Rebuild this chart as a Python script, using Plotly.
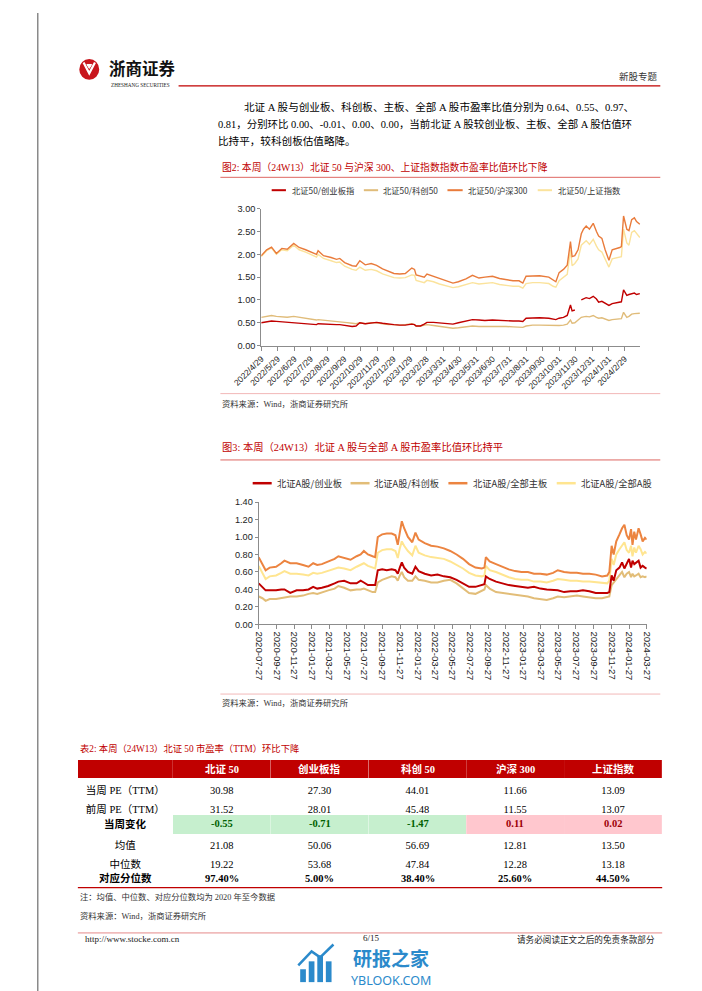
import plotly.graph_objects as go

W, H = 702, 991
def px(x): return x / W
def py(y): return 1 - y / H

SERIF = "Liberation Serif, Noto Sans CJK SC, serif"
SANS = "Arial, Liberation Sans, Noto Sans CJK SC, sans-serif"
CJK = "Noto Sans CJK SC, sans-serif"
RED = "#C00000"
NB = "\u00a0"

# ---------------- Chart 1 data (北证50 / 各指数 市盈率比值) ----------------
c1_dates = [
    "2022-04-29","2022-05-09","2022-05-18","2022-05-27","2022-06-06","2022-06-16","2022-06-28","2022-07-08","2022-07-20","2022-08-01",
    "2022-08-09","2022-08-12","2022-08-22","2022-09-05","2022-09-15","2022-09-21","2022-09-30","2022-10-14","2022-10-21","2022-10-28",
    "2022-11-07","2022-11-18","2022-11-28","2022-12-09","2022-12-20","2022-12-30","2023-01-10","2023-01-20","2023-02-01","2023-02-06",
    "2023-02-09","2023-02-17","2023-02-24","2023-03-01","2023-03-13","2023-03-24","2023-04-06","2023-04-18","2023-04-28","2023-05-12",
    "2023-05-24","2023-06-05","2023-06-16","2023-06-30","2023-07-13","2023-07-25","2023-08-07","2023-08-18","2023-08-25","2023-08-31",
    "2023-09-12","2023-09-25","2023-10-12","2023-10-20","2023-10-25","2023-10-31","2023-11-08","2023-11-15","2023-11-21","2023-11-24",
    "2023-11-29","2023-12-05","2023-12-11","2023-12-15","2023-12-20","2023-12-26","2024-01-02","2024-01-08","2024-01-12","2024-01-18",
    "2024-01-24","2024-01-31","2024-02-06","2024-02-20","2024-02-23","2024-02-27","2024-03-04","2024-03-08","2024-03-13","2024-03-18",
    "2024-03-22","2024-03-28"]
c1_cyb = [0.50,0.53,0.54,0.53,0.52,0.51,0.51,0.50,0.48,0.47,
          0.46,0.48,0.47,0.47,0.46,0.46,0.44,0.42,0.43,0.50,
          0.48,0.50,0.51,0.49,0.47,0.46,0.45,0.45,0.47,0.46,
          0.43,0.43,0.47,0.51,0.51,0.50,0.48,0.47,0.50,0.54,
          0.57,0.56,0.55,0.56,0.55,0.54,0.54,0.54,0.53,0.60,
          0.61,0.61,0.60,0.58,0.57,0.60,0.62,0.66,0.89,0.76,
          0.78,None,1.00,1.03,1.05,1.03,1.08,1.02,0.95,0.97,
          0.93,0.88,0.92,0.94,0.96,1.22,1.10,1.12,1.13,1.15,
          1.12,1.14]
c1_kc50 = [0.62,0.64,0.66,0.64,0.63,0.62,0.64,0.62,0.60,0.57,
           0.56,0.57,0.56,0.55,0.53,0.53,0.51,0.49,0.48,0.50,
           0.48,0.50,0.50,0.48,0.46,0.46,0.45,0.46,0.48,0.46,
           0.43,0.43,0.45,0.46,0.44,0.42,0.40,0.38,0.39,0.41,
           0.43,0.42,0.42,0.43,0.42,0.42,0.41,0.40,0.40,0.43,
           0.45,0.45,0.44,0.43,0.43,0.44,0.45,0.47,0.56,0.49,
           0.50,0.55,0.62,0.63,0.64,0.63,0.66,0.62,0.60,0.61,
           0.58,0.55,0.57,0.58,0.59,0.73,0.62,0.64,0.69,0.70,
           0.70,0.71]
c1_hs300 = [1.97,2.10,2.16,2.02,2.13,2.11,2.24,2.15,2.10,2.04,
            2.00,2.08,1.97,1.93,1.89,1.91,1.82,1.75,1.74,1.86,
            1.77,1.80,1.76,1.68,1.62,1.58,1.57,1.58,1.70,1.67,
            1.55,1.52,1.50,1.57,1.52,1.47,1.42,1.37,1.40,1.46,
            1.54,1.48,1.50,1.52,1.47,1.44,1.42,1.42,1.37,1.52,
            1.53,1.53,1.50,1.43,1.40,1.60,1.67,1.76,2.28,1.95,
            1.97,2.10,2.45,2.55,2.62,2.55,2.68,2.50,2.40,2.35,
            2.10,1.87,2.10,2.15,2.17,2.84,2.55,2.52,2.76,2.80,
            2.72,2.66]
c1_szzs = [1.95,2.08,2.14,2.00,2.10,2.08,2.20,2.10,2.05,1.98,
           1.94,2.00,1.91,1.86,1.82,1.83,1.74,1.67,1.65,1.72,
           1.65,1.67,1.64,1.57,1.52,1.49,1.48,1.49,1.55,1.54,
           1.43,1.40,1.38,1.43,1.40,1.35,1.31,1.27,1.29,1.33,
           1.38,1.35,1.36,1.38,1.34,1.32,1.30,1.30,1.26,1.36,
           1.38,1.38,1.36,1.30,1.28,1.42,1.50,1.56,2.10,1.75,
           1.80,1.90,2.20,2.25,2.30,2.22,2.33,2.18,2.10,2.05,
           1.90,1.72,1.90,1.93,1.95,2.55,2.25,2.20,2.48,2.52,
           2.45,2.37]
c1_names = ["北证50/创业板指", "北证50/科创50", "北证50/沪深300", "北证50/上证指数"]
c1_colors = ["#C00000", "#E0BC7A", "#E97B3B", "#FBE39C"]
c1_tickvals = ["2022-04-29","2022-05-29","2022-06-29","2022-07-29","2022-08-29","2022-09-29","2022-10-29",
               "2022-11-29","2022-12-29","2023-01-29","2023-02-28","2023-03-31","2023-04-30","2023-05-31",
               "2023-06-30","2023-07-31","2023-08-31","2023-09-30","2023-10-31","2023-11-30","2023-12-31",
               "2024-01-31","2024-02-29"]
c1_ticktext = ["2022/4/29","2022/5/29","2022/6/29","2022/7/29","2022/8/29","2022/9/29","2022/10/29",
               "2022/11/29","2022/12/29","2023/1/29","2023/2/28","2023/3/31","2023/4/30","2023/5/31",
               "2023/6/30","2023/7/31","2023/8/31","2023/9/30","2023/10/31","2023/11/30","2023/12/31",
               "2024/1/31","2024/2/29"]

# ---------------- Chart 2 data (北证A股 / 各板块 市盈率比值) ----------------
c2_dates = [
    "2020-07-27","2020-08-09","2020-08-20","2020-09-03","2020-09-25","2020-10-13","2020-10-24","2020-11-13","2020-12-05","2020-12-27",
    "2021-01-15","2021-01-31","2021-02-14","2021-03-02","2021-03-24","2021-04-15","2021-04-28","2021-05-18","2021-06-09","2021-06-30",
    "2021-07-14","2021-07-25","2021-08-08","2021-08-24","2021-09-02","2021-09-11","2021-09-26","2021-10-12","2021-10-29","2021-11-11",
    "2021-11-19","2021-11-26","2021-12-03","2021-12-11","2021-12-24","2022-01-08","2022-01-19","2022-01-30","2022-02-20","2022-03-14",
    "2022-04-05","2022-04-27","2022-05-19","2022-06-10","2022-07-02","2022-07-23","2022-08-14","2022-09-05","2022-09-14","2022-09-19",
    "2022-10-02","2022-10-24","2022-11-15","2022-12-07","2022-12-29","2023-01-20","2023-02-11","2023-03-04","2023-03-26","2023-04-17",
    "2023-05-09","2023-05-25","2023-06-16","2023-07-08","2023-07-30","2023-08-20","2023-09-11","2023-10-03","2023-10-25","2023-11-12",
    "2023-11-19","2023-11-27","2023-12-04","2023-12-13","2023-12-24","2024-01-02","2024-01-10","2024-01-18","2024-01-26","2024-02-02",
    "2024-02-07","2024-02-13","2024-02-19","2024-02-28","2024-03-06","2024-03-13","2024-03-21","2024-03-27"]
c2_cyb = [0.47,0.43,0.39,0.39,0.39,0.40,0.40,0.36,0.39,0.39,
          0.40,0.43,0.41,0.42,0.44,0.47,0.49,0.50,0.47,0.47,
          0.50,0.48,0.45,0.45,0.45,0.62,0.63,0.62,0.63,0.62,
          0.58,0.65,0.71,0.65,0.60,0.58,0.66,0.61,0.58,0.56,
          0.57,0.55,0.54,0.51,0.47,0.43,0.43,0.45,0.46,0.55,
          0.52,0.49,0.47,0.45,0.44,0.43,0.42,0.43,0.41,0.40,
          0.39,0.39,0.37,0.38,0.38,0.39,0.38,0.36,0.36,0.36,
          0.37,0.56,0.50,0.62,0.65,0.71,0.64,0.69,0.75,0.65,
          0.73,0.69,0.71,0.73,0.65,0.67,0.65,0.64]
c2_kcb = [0.32,0.30,0.27,0.29,0.29,0.30,0.31,0.32,0.32,0.33,
          0.35,0.36,0.35,0.37,0.39,0.41,0.44,0.42,0.39,0.40,
          0.40,0.41,0.39,0.37,0.37,0.48,0.51,0.53,0.55,0.54,
          0.50,0.56,0.60,0.54,0.50,0.50,0.55,0.51,0.50,0.48,
          0.48,0.50,0.51,0.47,0.41,0.36,0.35,0.39,0.40,0.45,
          0.41,0.37,0.36,0.35,0.34,0.33,0.32,0.30,0.29,0.28,
          0.30,0.32,0.31,0.32,0.33,0.32,0.31,0.30,0.30,0.31,
          0.32,0.45,0.48,0.52,0.56,0.60,0.54,0.58,0.60,0.54,
          0.58,0.55,0.56,0.58,0.54,0.55,0.54,0.55]
c2_zb = [0.77,0.68,0.62,0.65,0.66,0.70,0.73,0.70,0.70,0.68,
         0.66,0.70,0.68,0.69,0.72,0.75,0.78,0.76,0.74,0.78,
         0.80,0.84,0.80,0.78,0.77,1.00,1.03,1.04,1.04,1.02,
         0.91,1.05,1.18,1.10,1.00,0.94,1.05,0.97,0.93,0.90,
         0.89,0.87,0.84,0.80,0.75,0.69,0.65,0.64,0.65,0.77,
         0.72,0.69,0.66,0.63,0.61,0.60,0.60,0.58,0.58,0.57,
         0.59,0.62,0.60,0.59,0.59,0.58,0.58,0.57,0.55,0.56,
         0.60,0.90,0.80,0.95,1.03,1.10,1.14,1.02,0.97,1.09,
         0.91,1.06,0.97,1.10,1.03,0.95,0.99,0.97]
c2_qbA = [0.67,0.58,0.52,0.55,0.56,0.59,0.61,0.58,0.58,0.57,
          0.56,0.59,0.58,0.59,0.61,0.63,0.65,0.64,0.62,0.66,
          0.68,0.70,0.67,0.65,0.64,0.82,0.85,0.86,0.86,0.84,
          0.76,0.87,0.95,0.90,0.84,0.79,0.90,0.82,0.79,0.77,
          0.76,0.75,0.72,0.68,0.64,0.59,0.56,0.55,0.56,0.67,
          0.62,0.60,0.57,0.54,0.52,0.51,0.51,0.49,0.49,0.48,
          0.50,0.52,0.51,0.50,0.50,0.49,0.49,0.48,0.47,0.47,
          0.50,0.75,0.68,0.80,0.86,0.90,0.94,0.85,0.82,0.90,
          0.78,0.88,0.82,0.90,0.86,0.80,0.83,0.81]
c2_names = ["北证A股/创业板", "北证A股/科创板", "北证A股/全部主板", "北证A股/全部A股"]
c2_colors = ["#C00000", "#E2BD78", "#EC8440", "#FFE590"]
c2_tickvals = ["2020-07-27","2020-09-27","2020-11-27","2021-01-27","2021-03-27","2021-05-27","2021-07-27",
               "2021-09-27","2021-11-27","2022-01-27","2022-03-27","2022-05-27","2022-07-27","2022-09-27",
               "2022-11-27","2023-01-27","2023-03-27","2023-05-27","2023-07-27","2023-09-27","2023-11-27",
               "2024-01-27","2024-03-27"]
c2_ticktext = list(c2_tickvals)

# ---------------- Table data ----------------
tbl_header = ["", "北证 50", "创业板指", "科创 50", "沪深 300", "上证指数"]
tbl_rows = ["当周 PE（TTM）", "前周 PE（TTM）", "当周变化", "均值", "中位数", "对应分位数"]
pe_cur = [30.98, 27.30, 44.01, 11.66, 13.09]
pe_prev = [31.52, 28.01, 45.48, 11.55, 13.07]
pe_chg = [-0.55, -0.71, -1.47, 0.11, 0.02]
pe_mean = [21.08, 50.06, 56.69, 12.81, 13.50]
pe_median = [19.22, 53.68, 47.84, 12.28, 13.18]
pe_pct = [97.40, 5.00, 38.40, 25.60, 44.50]

fig = go.Figure()

c1_series = [c1_cyb, c1_kc50, c1_hs300, c1_szzs]
for k in [3, 2, 1, 0]:
    fig.add_trace(go.Scatter(x=c1_dates, y=c1_series[k], name=c1_names[k], mode="lines",
                             line=dict(color=c1_colors[k], width=1.4), xaxis="x", yaxis="y",
                             connectgaps=False))

c2_series = [c2_cyb, c2_kcb, c2_zb, c2_qbA]
for k in [3, 2, 1, 0]:
    fig.add_trace(go.Scatter(x=c2_dates, y=c2_series[k], name=c2_names[k], mode="lines",
                             line=dict(color=c2_colors[k], width=2.0), xaxis="x2", yaxis="y2"))

ann = []
def txt(x, y, s, size, color="#000", anchor="left", family=SERIF, pad=1):
    ann.append(dict(x=px(x), y=py(y), xref="paper", yref="paper", text=s, showarrow=False,
                    xanchor=anchor, yanchor="middle", borderpad=pad,
                    font=dict(size=size, color=color, family=family)))

# ---------------- Table ----------------
# geometry
TX0, TX1 = 43, 658
HY0, HH, RH = 754.5, 18.5, 18.4
colw = [100, 103, 103, 103, 103, 103]
scale = (TX1 - TX0) / sum(colw)
col_cx = []
acc = TX0
for w in colw:
    col_cx.append(acc + w * scale / 2)
    acc += w * scale
BOLD_ROWS = (2, 5)

def nb(s):
    return s.replace(" ", NB)

row_vals = [["%.2f" % v for v in pe_cur], ["%.2f" % v for v in pe_prev], ["%.2f" % v for v in pe_chg],
            ["%.2f" % v for v in pe_mean], ["%.2f" % v for v in pe_median], ["%.2f%%" % v for v in pe_pct]]
chg_color = ["#9C0006" if v > 0 else "#006100" for v in pe_chg]
chg_fill = ["#FFC7CE" if v > 0 else "#C6EFCE" for v in pe_chg]

# regular cells go through the table trace; bold rows / header are drawn as bold text on top
cols = [[("" if k in BOLD_ROWS else nb(r)) for k, r in enumerate(tbl_rows)]]
fills = [["white"] * 6]
for i in range(5):
    cols.append([("" if k in BOLD_ROWS else row_vals[k][i]) for k in range(6)])
    fills.append(["white", "white", chg_fill[i], "white", "white", "white"])

fig.add_trace(go.Table(
    domain=dict(x=[px(TX0), px(TX1)], y=[py(HY0 + HH + 6 * RH + 1.5), py(HY0)]),
    columnwidth=colw,
    header=dict(values=[""] * 6, fill_color=RED, height=HH, line=dict(width=0, color=RED)),
    cells=dict(values=cols, fill_color=fills, font=dict(color="#000", size=10.5, family=SERIF),
               align="center", height=RH, line=dict(width=0, color="white")),
))
for j, h in enumerate(tbl_header):
    if h:
        txt(col_cx[j], HY0 + HH / 2, "<b>%s</b>" % h, 10.5, "white", anchor="center", pad=0)
for k in BOLD_ROWS:
    yc = HY0 + HH + RH * (k + 0.5)
    txt(col_cx[0], yc, "<b>%s</b>" % tbl_rows[k], 10.5, "#000", anchor="center", pad=0)
    for i in range(5):
        c = chg_color[i] if k == 2 else "#000"
        txt(col_cx[i + 1], yc, "<b>%s</b>" % row_vals[k][i], 10.5, c, anchor="center", pad=0)

shapes = []
def hline(x0, x1, y, color, width=1.0):
    shapes.append(dict(type="line", xref="paper", yref="paper", x0=px(x0), x1=px(x1), y0=py(y), y1=py(y),
                       line=dict(color=color, width=width)))

# Header / logo
shapes.append(dict(type="circle", xref="paper", yref="paper", x0=px(44.5), x1=px(65.5), y0=py(67.5), y1=py(46.5),
                   fillcolor="#C8161D", line=dict(width=0)))
shapes.append(dict(type="path", xref="paper", yref="paper",
                   path="M %f,%f L %f,%f L %f,%f" % (px(49), py(50), px(55), py(61), px(61), py(50)),
                   line=dict(color="white", width=2.2)))
shapes.append(dict(type="path", xref="paper", yref="paper",
                   path="M %f,%f L %f,%f L %f,%f Z" % (px(52.5), py(52), px(55), py(56), px(57.5), py(52)),
                   fillcolor="white", line=dict(color="white", width=1)))
txt(74, 56, "<b>浙商证券</b>", 16.5, "#111", family=CJK)
txt(76, 72.5, "ZHESHANG SECURITIES", 5.2, "#222", family="Liberation Serif, serif")
hline(149, 656, 73.6, RED, 1.2)
txt(656, 64.5, "新股专题", 9.5, "#333", anchor="right")

# Paragraph
txt(216, 94.5, "北证 A 股与创业板、科创板、主板、全部 A 股市盈率比值分别为 0.64、0.55、0.97、", 10.6)
txt(188, 112, "0.81，分别环比 0.00、-0.01、0.00、0.00，当前北证 A 股较创业板、主板、全部 A 股估值环", 10.45)
txt(188, 129.5, "比持平，较科创板估值略降。", 10.6)

# Figure 2
txt(193, 155.7, "图2: 本周（24W13）北证 50 与沪深 300、上证指数指数市盈率比值环比下降", 9.8, RED)
hline(193, 656, 166, "#D9534F", 0.9)
leg1 = [(247, 262, 266), (344, 359, 362), (432, 448, 452), (527, 542, 546)]
for (a, b, t), nm, cl in zip(leg1, c1_names, c1_colors):
    hline(a, b, 179, cl, 2)
    txt(t, 179, nm, 8.3, "#333", family=CJK)
hline(193, 656, 384.5, "#F2B8B8", 1.0)
txt(193, 394.5, "资料来源：Wind，浙商证券研究所", 8.3, "#333")

# Figure 3
txt(193, 438, "图3: 本周（24W13）北证 A 股与全部 A 股市盈率比值环比持平", 10.3, RED)
hline(193, 656, 451.5, "#D9534F", 0.9)
leg2 = [(227, 247, 250), (330, 350, 353), (433, 453, 457), (547, 567, 570)]
for (a, b, t), nm, cl in zip(leg2, c2_names, c2_colors):
    hline(a, b, 475, cl, 2.5)
    txt(t, 475, nm, 9.3, "#333", family=CJK)
hline(193, 656, 688, "#F2B8B8", 1.0)
txt(193, 697.5, "资料来源：Wind，浙商证券研究所", 8.3, "#333")

# Table title + lines
txt(43, 743.3, "表2: 本周（24W13）北证 50 市盈率（TTM）环比下降", 9.3, RED)
hline(43, 658, 883.5, RED, 1.2)
txt(43, 893.5, "注：均值、中位数、对应分位数均为 2020 年至今数据", 8.3, "#333")
txt(43, 912.5, "资料来源：Wind，浙商证券研究所", 8.3, "#333")

# Footer
hline(43, 658, 929.3, "#E58A8A", 1.0)
txt(49, 935.5, "http://www.stocke.com.cn", 9, "#222", pad=0)
txt(352, 934.8, "6/15", 9, "#222", anchor="center", pad=0)
txt(651, 935.5, "请务必阅读正文之后的免责条款部分", 8.6, "#222", anchor="right", pad=0)

# Watermark
WM = "#2B8ACB"
for (x0, x1, y0) in [(277, 283, 966), (286, 292, 958), (295, 301, 952), (304, 310, 958)]:
    shapes.append(dict(type="rect", xref="paper", yref="paper", x0=px(x0), x1=px(x1), y0=py(979), y1=py(y0),
                       fillcolor=WM, line=dict(width=0)))
shapes.append(dict(type="path", xref="paper", yref="paper",
                   path="M %f,%f L %f,%f L %f,%f L %f,%f" % (px(275), py(962), px(289), py(948), px(298), py(954), px(312), py(941)),
                   line=dict(color=WM, width=2.5)))
txt(373, 954.2, "<b>研报之家</b>", 19, WM, anchor="center", family=CJK, pad=0)
txt(373, 977.2, "YBLOOK.COM", 12.5, WM, anchor="center", family="Noto Sans, sans-serif", pad=0)

# Page border
shapes.append(dict(type="line", xref="paper", yref="paper", x0=px(0.8), x1=px(0.8), y0=py(989.5), y1=1,
                   line=dict(color="#8a8a8a", width=1.5)))
shapes.append(dict(type="line", xref="paper", yref="paper", x0=px(701), x1=px(701), y0=py(989.5), y1=1,
                   line=dict(color="#8a8a8a", width=1.5)))
shapes.append(dict(type="line", xref="paper", yref="paper", x0=0, x1=1, y0=py(989.5), y1=py(989.5),
                   line=dict(color="#8a8a8a", width=1.5)))

AX = "#8C8C8C"
fig.update_layout(
    width=W, height=H, margin=dict(l=0, r=0, t=0, b=0),
    paper_bgcolor="white", plot_bgcolor="white", showlegend=False,
    annotations=ann, shapes=shapes,
    xaxis=dict(domain=[px(236), px(635)], anchor="y", type="date",
               range=["2022-04-29", "2024-03-29"], tickmode="array",
               tickvals=c1_tickvals, ticktext=c1_ticktext, tickangle=-45,
               tickfont=dict(size=8.5, family=SANS, color="#222"),
               showline=True, linecolor=AX, linewidth=1, ticks="outside", ticklen=4, tickcolor=AX,
               showgrid=False, zeroline=False),
    yaxis=dict(domain=[py(336), py(197.7)], anchor="x", range=[0, 3], dtick=0.5, tickformat=".2f",
               tickfont=dict(size=9.2, family=SANS, color="#222"),
               showline=True, linecolor=AX, linewidth=1, ticks="outside", ticklen=3, tickcolor=AX,
               showgrid=False, zeroline=False),
    xaxis2=dict(domain=[px(233.3), px(641.7)], anchor="y2", type="date",
                range=["2020-07-27", "2024-03-27"], tickmode="array",
                tickvals=c2_tickvals, ticktext=c2_ticktext, tickangle=90,
                tickfont=dict(size=9.6, family=SANS, color="#222"),
                showline=True, linecolor=AX, linewidth=1, ticks="outside", ticklen=4, tickcolor=AX,
                showgrid=False, zeroline=False),
    yaxis2=dict(domain=[py(617.7), py(494)], anchor="x2", range=[0, 1.4], dtick=0.2, tickformat=".2f",
                tickfont=dict(size=9.2, family=SANS, color="#222"),
                showline=True, linecolor=AX, linewidth=1, ticks="outside", ticklen=3, tickcolor=AX,
                showgrid=False, zeroline=False),
)

fig.write_html("out.html")
